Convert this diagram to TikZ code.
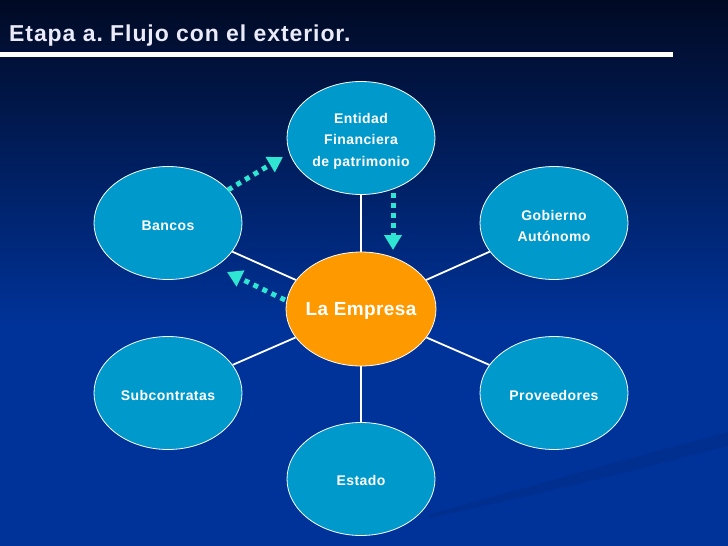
\documentclass[tikz,border=0pt]{standalone}
\usepackage{fontspec}
\setmainfont{Liberation Sans}
\usetikzlibrary{shapes.geometric,arrows.meta}
\definecolor{bgtop}{HTML}{010A24}
\definecolor{bgbot}{HTML}{00339A}
\definecolor{bubble}{HTML}{0099CC}
\definecolor{orangeE}{HTML}{FF9900}
\definecolor{flow}{HTML}{2EE6D2}
\definecolor{titlec}{HTML}{EAEAF8}
\tikzset{
  bubble/.style={ellipse, draw=white, line width=0.8pt, fill=bubble, minimum width=148pt, minimum height=113pt, inner sep=0pt},
  core/.style={bubble, fill=orangeE, minimum width=150pt, minimum height=114pt},
  lbl/.style={text=white, inner sep=0pt, align=center, font=\bfseries\fontsize{14}{21.5}\selectfont\addfontfeature{LetterSpace=3}},
  corelbl/.style={lbl, font=\bfseries\fontsize{19}{22}\selectfont\addfontfeature{LetterSpace=2}},
  link/.style={draw=white, line width=1.8pt},
  flowarrow/.style={draw=flow, line width=5pt, dash pattern=on 5pt off 5pt, -{Triangle[width=17pt,length=15pt]}}
}
\frenchspacing
\begin{document}
\begin{tikzpicture}[x=1pt,y=-1pt]
\useasboundingbox (0,0) rectangle (728,546);
\shade[top color=bgtop, bottom color=bgbot] (0,0) rectangle (728,330);
\fill[bgbot] (0,329) rectangle (728,546);
\fill[black, opacity=0.07] (430,514) .. controls (560,478) and (650,452) .. (728,432) -- (728,446) .. controls (650,466) and (560,490) .. (430,518) -- cycle;
% title
\node[anchor=base west, text=titlec, font=\bfseries\fontsize{23}{26}\selectfont\addfontfeature{LetterSpace=4}, inner sep=0pt] (title) at (9,41) {Etapa a. Flujo con el exterior.};
\fill[white] (0,52) rectangle (673,57);
% nodes
\node[core] (emp) at (361,309) {};
\node[bubble] (ent) at (361,138) {};
\node[bubble] (ban) at (168,223) {};
\node[bubble] (gob) at (554,223) {};
\node[bubble] (sub) at (168,393) {};
\node[bubble] (pro) at (554,393) {};
\node[bubble] (est) at (361,479) {};
\node[corelbl] (empT) at ([yshift=-2pt]emp.center) {La Empresa};
\node[lbl] (entT) at ([yshift=-3pt]ent.center) {Entidad\\Financiera\\de patrimonio};
\node[lbl] (banT) at ([yshift=-3pt]ban.center) {Bancos};
\node[lbl] (gobT) at ([yshift=-3pt]gob.center) {Gobierno\\Autónomo};
\node[lbl] (subT) at ([yshift=-2pt]sub.center) {Subcontratas};
\node[lbl] (proT) at ([yshift=-2pt]pro.center) {Proveedores};
\node[lbl] (estT) at ([yshift=-1pt]est.center) {Estado};
% links
\draw[link] (emp) -- (ent);
\draw[link] (emp) -- (ban);
\draw[link] (emp) -- (gob);
\draw[link] (emp) -- (sub);
\draw[link] (emp) -- (pro);
\draw[link] (emp) -- (est);
% flows
\coordinate (a1s) at (228,190);
\coordinate (a1e) at (283,157);
\coordinate (a2s) at (393,193);
\coordinate (a2e) at (393,250);
\coordinate (a3s) at (285,300);
\coordinate (a3e) at (227,272);
\draw[flowarrow] (a1s) -- (a1e);
\draw[flowarrow] (a2s) -- (a2e);
\draw[flowarrow] (a3s) -- (a3e);
\end{tikzpicture}
\end{document}
